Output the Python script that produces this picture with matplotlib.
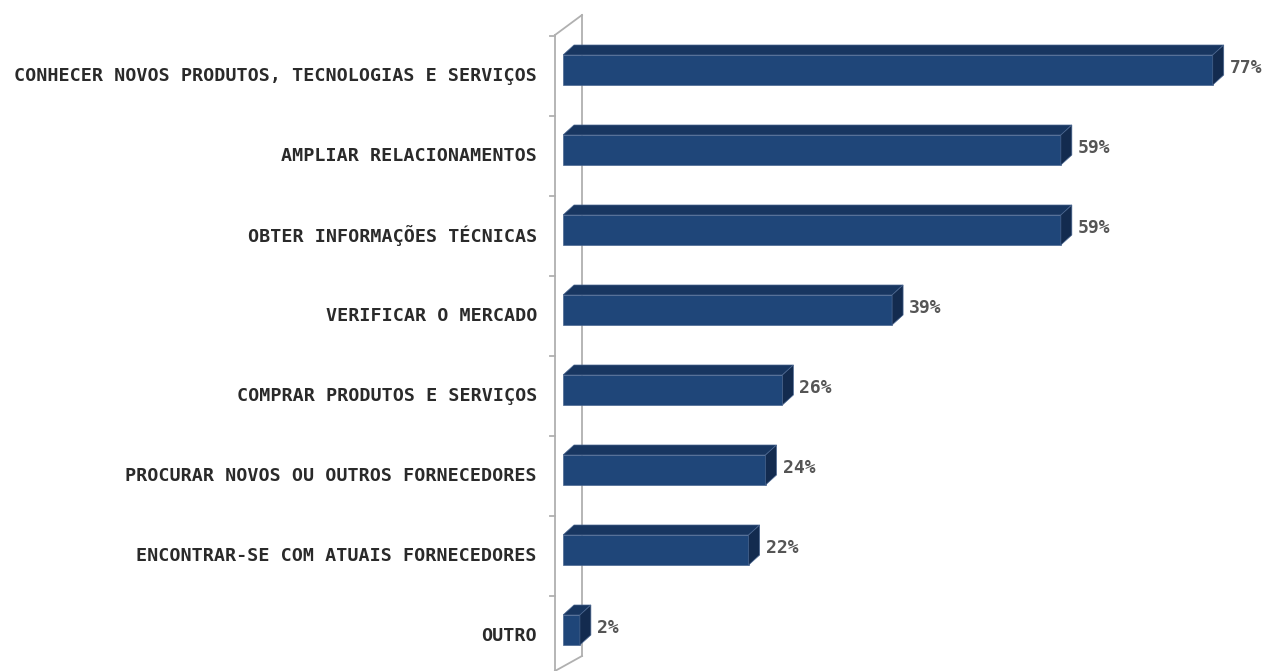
import matplotlib.pyplot as plt
from matplotlib.patches import Polygon

categories = [
    "CONHECER NOVOS PRODUTOS, TECNOLOGIAS E SERVIÇOS",
    "AMPLIAR RELACIONAMENTOS",
    "OBTER INFORMAÇÕES TÉCNICAS",
    "VERIFICAR O MERCADO",
    "COMPRAR PRODUTOS E SERVIÇOS",
    "PROCURAR NOVOS OU OUTROS FORNECEDORES",
    "ENCONTRAR-SE COM ATUAIS FORNECEDORES",
    "OUTRO",
]
values = [77, 59, 59, 39, 26, 24, 22, 2]
value_labels = ["77%", "59%", "59%", "39%", "26%", "24%", "22%", "2%"]

front_col = "#1f4679"
top_col = "#183660"
side_col = "#132b4f"
edge_col = "#4a6690"

fig = plt.figure(figsize=(12.72, 6.71), dpi=100)
ax = fig.add_axes([563 / 1272, 0, 713 / 1272, 1])
ax.set_xlim(0, 84.5)
ax.set_ylim(601 / 80, -70 / 80)
ax.axis("off")

# pixel -> data helpers for the 3d offsets
px_x = 84.5 / 713
px_y = 1 / 80.0

bh = 30 * px_y            # front face height
ddx, ddy = 11 * px_x, -10 * px_y   # bar depth

for i, v in enumerate(values):
    y0 = i - bh / 2
    y1 = i + bh / 2
    # front
    ax.add_patch(Polygon([(0, y0), (v, y0), (v, y1), (0, y1)], closed=True,
                         fc=front_col, ec=edge_col, lw=0.5, zorder=3))
    # top
    ax.add_patch(Polygon([(0, y0), (ddx, y0 + ddy), (v + ddx, y0 + ddy), (v, y0)],
                         closed=True, fc=top_col, ec=edge_col, lw=0.5, zorder=3))
    # side
    ax.add_patch(Polygon([(v, y0), (v + ddx, y0 + ddy), (v + ddx, y1 + ddy), (v, y1)],
                         closed=True, fc=side_col, ec=edge_col, lw=0.5, zorder=3))
    ax.text(v + ddx + 6 * px_x, i - 0.03, value_labels[i], ha="left", va="center",
            fontsize=13, color="#555555", family="DejaVu Sans Mono",
            fontweight="bold", clip_on=False)
    ax.text(-26 * px_x, i + 6 * px_y, categories[i], ha="right", va="center",
            fontsize=13.2, color="#2a2a2a", family="DejaVu Sans Mono",
            fontweight="bold", clip_on=False)

# side wall of the 3d chart
fx, bx = -8 * px_x, 19 * px_x
top_f = (35 - 70) * px_y
top_b = (15 - 70) * px_y
bot_f = (671 - 70) * px_y
bot_b = (656 - 70) * px_y
wall_kw = dict(color="#b0b0b0", lw=1.3, clip_on=False, zorder=1)
ax.plot([fx, fx], [top_f, bot_f + 0.1], **wall_kw)
ax.plot([bx, bx], [top_b, bot_b], **wall_kw)
ax.plot([fx, bx], [top_f, top_b], **wall_kw)
ax.plot([fx, bx], [bot_f, bot_b], **wall_kw)
for k in range(len(categories)):
    ty = k - 0.5 + 6 * px_y
    ax.plot([fx - 5 * px_x, fx], [ty, ty], **wall_kw)

fig.savefig("out.png", dpi=100, facecolor="white")
